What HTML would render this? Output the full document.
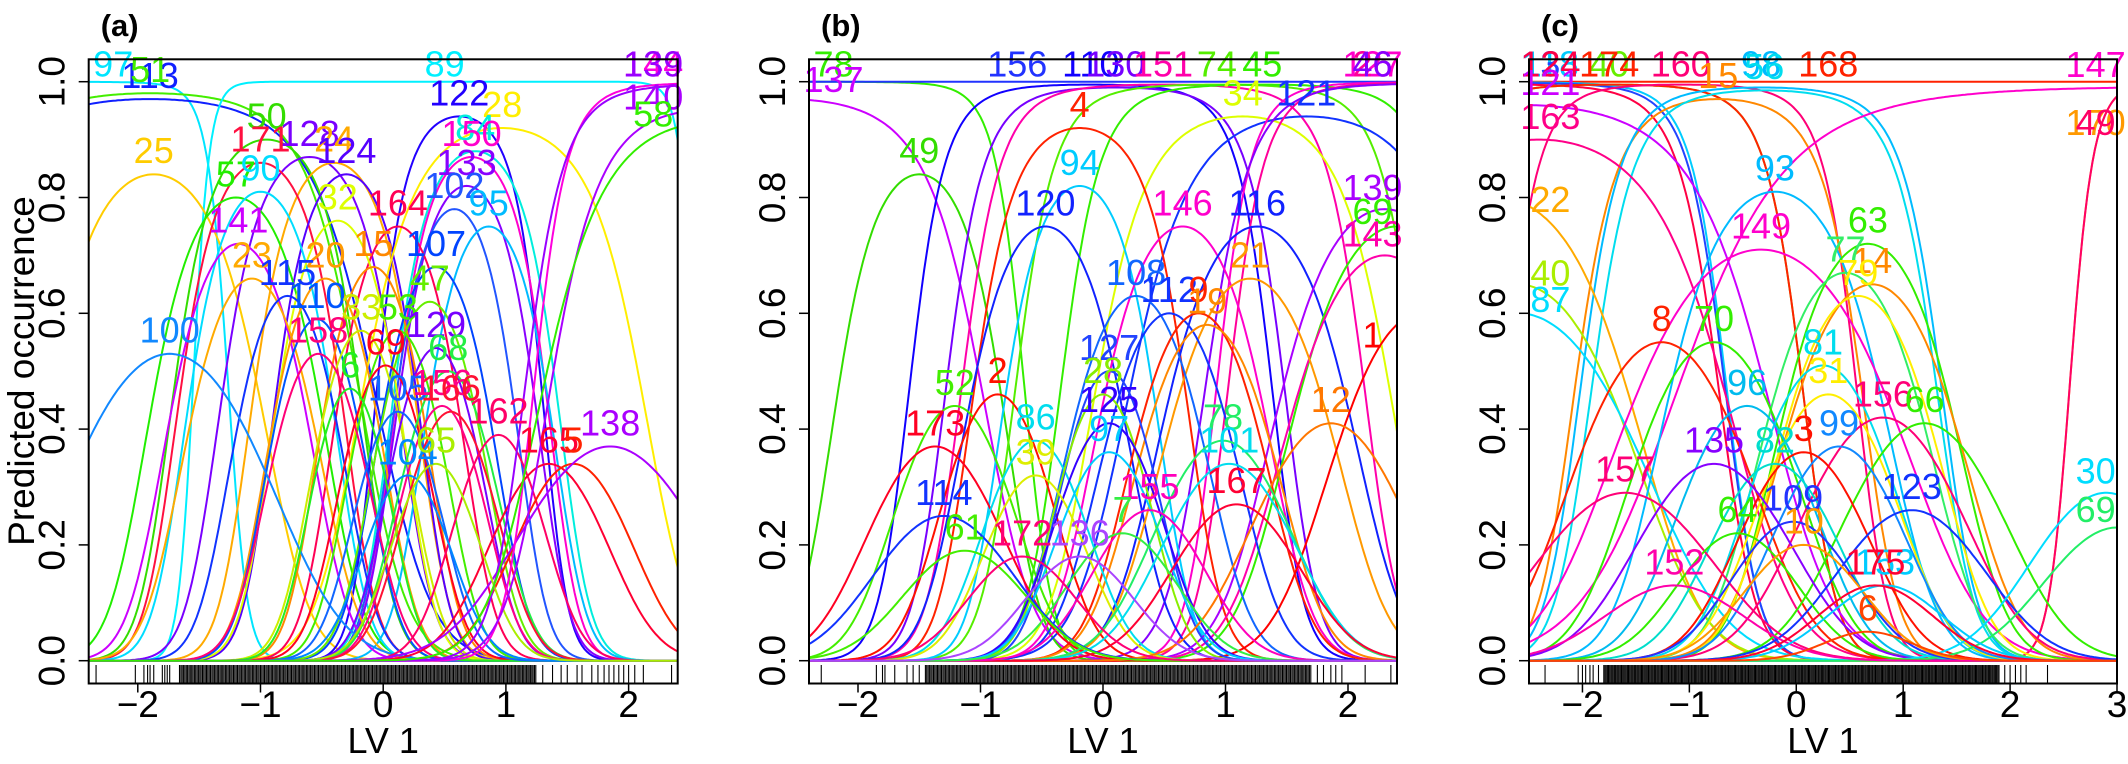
<!DOCTYPE html>
<html><head><meta charset="utf-8"><style>
html,body{margin:0;padding:0;background:#fff}
svg{display:block}
text{font-family:"Liberation Sans",Arial,sans-serif}
</style></head><body>
<svg id="fig" width="2128" height="764" viewBox="0 0 2128 764"></svg>
<script>
// ---------- Panel (a) data ----------
const aLabels=["97","113","51","89","25","50","128","24","171","124","57","90","122","28","84","150","133","102","95","164","32","141","23","20","15","107","47","115","110","33","53","158","129","100","69","68","6","105","156","166","162","165","5","138","104","65","144","139","140","58"];
const aOpt=[-2.6,-1.9,-1.9,0.5,-1.87,-0.95,-0.6,-0.4,-1.0,-0.3,-1.2,-1.0,0.62,0.97,0.75,0.72,0.68,0.58,0.86,0.12,-0.37,-1.18,-1.07,-0.47,-0.08,0.43,0.38,-0.78,-0.54,-0.18,0.12,-0.53,0.43,-1.74,0.02,0.53,-0.27,0.12,0.48,0.55,0.94,1.35,1.55,1.85,0.2,0.43,2.8,2.8,2.6,2.7];
const aMax=[0.9997,0.97,0.98,0.9999999,0.84,0.90,0.87,0.86,0.86,0.84,0.80,0.81,0.94,0.92,0.88,0.87,0.82,0.78,0.75,0.75,0.76,0.72,0.66,0.66,0.68,0.68,0.62,0.63,0.59,0.57,0.57,0.53,0.54,0.53,0.51,0.50,0.47,0.43,0.44,0.43,0.39,0.34,0.34,0.37,0.32,0.34,0.9975,0.995,0.95,0.93];
const aTol=[0.33,0.68,0.6,0.36,0.45,0.35,0.35,0.33,0.33,0.3,0.38,0.32,0.28,0.5,0.32,0.3,0.3,0.28,0.3,0.3,0.3,0.35,0.35,0.3,0.28,0.3,0.3,0.3,0.28,0.28,0.28,0.3,0.28,0.6,0.28,0.3,0.25,0.28,0.28,0.3,0.3,0.4,0.4,0.6,0.3,0.3,0.45,0.5,0.5,0.6];
const aCol=["#00e5ff","#1020ff","#44ee00","#00f0ff","#ffcc00","#33dd00","#7a00ff","#ffaa00","#ff1040","#5500ff","#22ee00","#00ddff","#2200ff","#ffee00","#00eedd","#ff00cc","#8800ff","#2255ff","#00bbff","#ff0055","#ddff00","#cc00ff","#ffaa00","#ff9900","#ff8800","#0044ff","#66ee00","#1133ff","#0055ff","#ccee00","#44ee00","#ff0077","#7700ff","#1188ff","#ff0022","#22ee44","#22ee22","#1166ff","#ff0088","#ff1133","#ff0066","#ff0033","#ff2200","#aa00ff","#0088ff","#aaee00","#ff00dd","#9900ff","#aa00ff","#33ee00"];
const aRugSparse=[-2.34,-2.02,-1.95,-1.92,-1.9,-1.87,-1.8,-1.78,-1.76,-1.74,1.3,1.38,1.45,1.5,1.58,1.62,1.7,1.75,1.8,1.84,1.88,1.92,1.96,2.0,2.05,2.12,2.35];
const aRugDense=[-1.66,1.25];

// ---------- Panel (b) data ----------
const bLabels=["78","137","49","156","110","130","151","74","45","34","121","127","26","46","4","94","120","146","116","139","69","143","21","108","112","9","19","1","52","2","173","86","127","28","125","39","97","12","78","101","167","155","7","114","61","172","136"];
const bOpt=[-2.8,-2.6,-1.5,-0.7,-0.1,0.1,0.49,0.93,1.3,1.14,1.66,2.8,2.8,2.9,-0.19,-0.19,-0.47,0.65,1.26,2.3,2.4,2.3,1.2,0.27,0.54,0.78,0.85,2.6,-1.21,-0.86,-1.37,-0.55,0.05,0.0,0.05,-0.55,0.05,1.86,0.98,1.03,1.09,0.38,0.16,-1.3,-1.13,-0.66,-0.19];
const bMax=[0.9999,0.97,0.84,0.99999999,0.995,0.99,0.995,0.995,0.995,0.94,0.94,0.999,0.998,0.997,0.92,0.82,0.75,0.75,0.75,0.78,0.75,0.70,0.66,0.63,0.60,0.60,0.58,0.6,0.44,0.46,0.37,0.38,0.50,0.46,0.41,0.32,0.36,0.41,0.38,0.34,0.27,0.26,0.22,0.25,0.19,0.18,0.18];
const bTol=[0.5,0.6,0.35,1.5,0.45,0.45,0.5,0.5,0.5,0.5,0.6,0.5,0.5,0.6,0.38,0.33,0.38,0.4,0.45,0.5,0.5,0.5,0.45,0.38,0.38,0.38,0.4,0.5,0.38,0.35,0.45,0.35,0.3,0.3,0.35,0.35,0.35,0.5,0.45,0.45,0.45,0.4,0.4,0.5,0.45,0.4,0.4];
const bCol=["#33ee00","#cc00ff","#33dd00","#2233ff","#1100ff","#7700ff","#ff00aa","#55ee00","#33ee00","#ddff00","#1133ff","#ff00cc","#ff0099","#8800ff","#ff2200","#00ccff","#1122ff","#ff00cc","#1122ff","#aa00ff","#33ee00","#ff00aa","#ff9900","#1166ff","#1133ff","#ff2200","#ff8800","#ff0000","#44ee00","#ff1100","#ff0022","#00ddee","#2244ff","#88ee00","#3300ff","#ddee00","#00ccff","#ff7700","#22ee66","#00ddee","#ff0033","#ff00bb","#33ee44","#1133ff","#44ee00","#ff0077","#aa44ff"];
const bRugSparse=[-2.3,-1.85,-1.8,-1.78,-1.7,-1.6,-1.55,-1.5,1.75,1.8,1.86,1.9,1.95,2.14,2.35];
const bRugDense=[-1.45,1.7];

// ---------- Panel (c) data ----------
const cLabels=["168","118","134","124","40","174","160","15","98","56","170","49","147","121","163","22","40","87","93","149","63","14","77","79","8","70","81","31","96","156","66","99","3","82","135","157","123","30","69","64","109","10","152","153","175","6"];
const cOpt=[0.3,-2.9,-2.8,-2.7,-1.75,-1.75,-1.08,-0.73,-0.33,-0.3,4.5,4.5,3.5,-2.6,-2.4,-2.8,-2.6,-2.6,-0.2,-0.33,0.67,0.71,0.46,0.58,-1.26,-0.77,0.25,0.3,-0.46,0.81,1.2,0.4,0.07,-0.2,-0.77,-1.6,1.08,2.9,3.0,-0.55,-0.03,0.07,-1.14,0.83,0.74,0.67];
const cMax=[0.99999999,0.999,0.998,0.995,0.995,0.995,0.995,0.97,0.99,0.985,0.9999,0.9999,0.99,0.96,0.90,0.8,0.65,0.6,0.81,0.71,0.72,0.65,0.67,0.63,0.55,0.55,0.51,0.46,0.44,0.42,0.41,0.37,0.36,0.34,0.34,0.29,0.26,0.29,0.23,0.22,0.24,0.20,0.13,0.13,0.13,0.05];
const cTol=[2.0,0.6,0.6,0.6,0.55,0.55,0.5,0.5,0.55,0.55,0.45,0.45,1.5,0.9,0.8,0.7,0.7,0.8,0.55,0.8,0.5,0.55,0.5,0.5,0.6,0.55,0.5,0.5,0.5,0.6,0.6,0.5,0.5,0.5,0.6,0.7,0.6,0.6,0.6,0.5,0.5,0.5,0.6,0.5,0.5,0.4];
const cCol=["#ff2200","#00ccff","#2244ff","#ff0044","#66ee00","#ff2200","#ff0077","#ff8800","#00bbff","#00ddee","#ff9900","#ff0066","#ff00cc","#cc00ff","#ff0088","#ffaa00","#aaee00","#00ddff","#00bbff","#ff00cc","#33ee00","#ff8800","#33ee66","#ffee00","#ff2200","#33ee00","#00ddee","#ffee00","#00bbee","#ff0077","#33ee00","#1188ff","#ff1100","#00ddcc","#8800ff","#ff0077","#1133ff","#00ddff","#22ee66","#33ee00","#2233ff","#ff9900","#ff00aa","#00ccff","#ff0033","#ff4400"];
const cRugSparse=[-2.35,-2.04,-2.0,-1.97,-1.93,-1.9,-1.85,1.95,2.0,2.05,2.1,2.15,2.35];
const cRugDense=[-1.8,1.9];

const NS="http://www.w3.org/2000/svg";
const svg=document.getElementById('fig');
function mk(tag,attrs,parent){const e=document.createElementNS(NS,tag);for(const k in attrs)e.setAttribute(k,attrs[k]);(parent||svg).appendChild(e);return e;}

const Y0=660.7, Y1=81.7, TOP=59.3, BOT=683.5;
function yS(v){return Y0+(Y1-Y0)*v;}

const panels=[
 {id:'a',left:88.7,right:677.7,xmin:-2.4,xmax:2.4,ticks:[-2,-1,0,1,2],labels:aLabels,opt:aOpt,max:aMax,tol:aTol,col:aCol,rs:aRugSparse,rd:aRugDense,title:"(a)"},
 {id:'b',left:809,right:1397,xmin:-2.4,xmax:2.4,ticks:[-2,-1,0,1,2],labels:bLabels,opt:bOpt,max:bMax,tol:bTol,col:bCol,rs:bRugSparse,rd:bRugDense,title:"(b)"},
 {id:'c',left:1529,right:2117,xmin:-2.5,xmax:3,ticks:[-2,-1,0,1,2,3],labels:cLabels,opt:cOpt,max:cMax,tol:cTol,col:cCol,rs:cRugSparse,rd:cRugDense,title:"(c)"}
];
const yTicks=[0,0.2,0.4,0.6,0.8,1.0];
const yTickLabels=["0.0","0.2","0.4","0.6","0.8","1.0"];

function prob(x,mu,mx,t){const a=Math.log(mx/(1-mx));const eta=a-(x-mu)*(x-mu)/(2*t*t);return 1/(1+Math.exp(-eta));}

panels.forEach(P=>{
  const xS=v=>P.left+(v-P.xmin)/(P.xmax-P.xmin)*(P.right-P.left);
  const g=mk('g',{});
  
  
  const cp=mk('clipPath',{id:'clip-'+P.id},g);
  mk('rect',{x:P.left,y:TOP,width:P.right-P.left,height:BOT-TOP},cp);
  const cg=mk('g',{'clip-path':'url(#clip-'+P.id+')'},g);
  
  
  for(let i=0;i<P.opt.length;i++){
    let d='';
    for(let k=0;k<=240;k++){
      const x=P.xmin+(P.xmax-P.xmin)*k/240;
      const p=prob(x,P.opt[i],P.max[i],P.tol[i]);
      d+=(k?'L':'M')+xS(x).toFixed(1)+' '+yS(p).toFixed(1);
    }
    const path=mk('path',{d:d,fill:'none',stroke:P.col[i],'stroke-width':2},cg);
    
    
  }
  const rg=mk('g',{stroke:'#000','stroke-width':1.1},g);
  
  
  P.rs.forEach(v=>{mk('line',{x1:xS(v),x2:xS(v),y1:BOT,y2:665},rg);});
  for(let v=P.rd[0];v<=P.rd[1];v+=0.011){mk('line',{x1:xS(v).toFixed(1),x2:xS(v).toFixed(1),y1:BOT,y2:665},rg);}
  const lg=mk('g',{'font-size':36,'text-anchor':'middle'},g);
  
  
  for(let i=0;i<P.opt.length;i++){
    const xc=Math.min(Math.max(P.opt[i],P.xmin+0.2),P.xmax-0.2);
    let yv=prob(xc,P.opt[i],P.max[i],P.tol[i])+0.04;
    if(yv>1.03)yv=1.03;
    const t=mk('text',{x:xS(xc).toFixed(1),y:(yS(yv)+12).toFixed(1),fill:P.col[i]},lg);
    t.textContent=P.labels[i];
    
    
  }
  const box=mk('rect',{x:P.left,y:TOP,width:P.right-P.left,height:BOT-TOP,fill:'none',stroke:'#000','stroke-width':2},g);
  
  
  const xa=mk('g',{},g);
  
  
  P.ticks.forEach(v=>{
    mk('line',{x1:xS(v),x2:xS(v),y1:BOT,y2:BOT+9,stroke:'#000','stroke-width':1.5},xa);
    const t=mk('text',{x:xS(v),y:717,'font-size':37,'text-anchor':'middle'},xa);
    t.textContent=(v<0?'\u2212':'')+Math.abs(v);
    
    
  });
  const xt=mk('text',{x:(P.left+P.right)/2,y:753,'font-size':36,'text-anchor':'middle'},xa);
  xt.textContent='LV 1';
  
  
  const ya=mk('g',{},g);
  
  
  yTicks.forEach((v,j)=>{
    mk('line',{x1:P.left,x2:P.left-10,y1:yS(v),y2:yS(v),stroke:'#000','stroke-width':1.5},ya);
    const tx=P.left-24, ty=yS(v);
    const t=mk('text',{x:tx,y:ty,'font-size':37,'text-anchor':'middle',transform:'rotate(-90 '+tx+' '+ty+')'},ya);
    t.textContent=yTickLabels[j];
    
    
  });
  const tt=mk('text',{x:P.left+12,y:36,'font-size':31,'font-weight':'bold'},g);
  tt.textContent=P.title;
  
  
});
const yt=mk('text',{x:34,y:371,'font-size':37,'text-anchor':'middle',transform:'rotate(-90 34 371)'});
yt.textContent='Predicted occurrence';


</script>
</body></html>
